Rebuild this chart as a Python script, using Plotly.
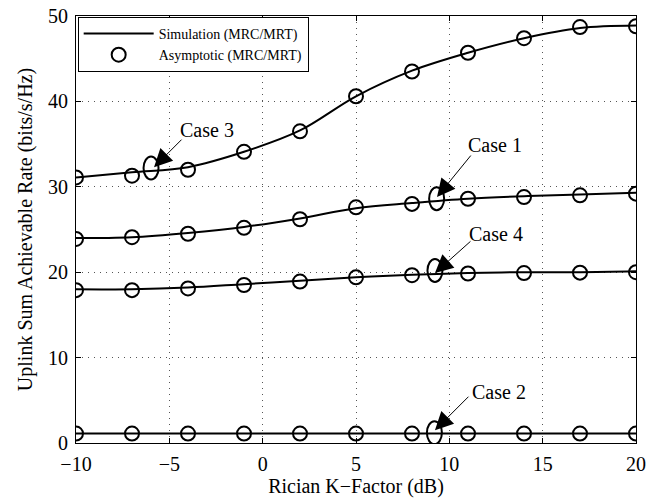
import plotly.graph_objects as go

k_factor = [-10, -7, -4, -1, 2, 5, 8, 11, 14, 17, 20]

sim_case3 = [31.1, 31.7, 32.3, 34.1, 36.6, 40.6, 43.6, 45.7, 47.4, 48.6, 48.9]
asy_case3 = [31.1, 31.3, 32.0, 34.1, 36.5, 40.6, 43.5, 45.7, 47.4, 48.7, 48.8]
sim_case1 = [24.0, 24.1, 24.6, 25.3, 26.3, 27.5, 28.1, 28.6, 28.9, 29.1, 29.3]
asy_case1 = [23.9, 24.1, 24.5, 25.2, 26.2, 27.6, 28.0, 28.6, 28.8, 29.0, 29.2]
sim_case4 = [18.0, 18.0, 18.2, 18.6, 19.0, 19.4, 19.7, 19.9, 20.0, 20.0, 20.1]
asy_case4 = [17.9, 17.9, 18.1, 18.5, 18.9, 19.4, 19.65, 19.85, 19.9, 19.95, 20.0]
sim_case2 = [1.1] * 11
asy_case2 = [1.1] * 11

sim_series = [sim_case3, sim_case1, sim_case4, sim_case2]
asy_series = [asy_case3, asy_case1, asy_case4, asy_case2]

x_ticks = [-10, -5, 0, 5, 10, 15, 20]
y_ticks = [0, 10, 20, 30, 40, 50]

# case labels: (text, label x, label y, arrow tip x, arrow tip y, tail dx px, tail dy px, ellipse x, ellipse y)
case_labels = [
    ("Case 3", -4.55, 36.6, -5.82, 32.3, 29, -29, -5.98, 32.2),
    ("Case 1", 10.87, 34.85, 9.34, 28.8, 35, -43, 9.32, 28.6),
    ("Case 4", 10.93, 24.5, 9.23, 19.9, 37, -33, 9.23, 20.2),
    ("Case 2", 11.1, 6.0, 9.23, 1.5, 35, -35, 9.2, 1.2),
]

FONT = "Liberation Serif, Times New Roman, Times, serif"

fig = go.Figure()
for i, ys in enumerate(sim_series):
    fig.add_trace(go.Scatter(
        x=k_factor, y=ys, mode="lines", line=dict(color="black", width=2, shape="spline"),
        name="Simulation (MRC/MRT)", showlegend=(i == 0), legendrank=1))
for i, ys in enumerate(asy_series):
    fig.add_trace(go.Scatter(
        x=k_factor, y=ys, mode="markers",
        marker=dict(symbol="circle-open", size=14, color="black", line=dict(width=2, color="black")),
        name="Asymptotic (MRC/MRT)", showlegend=(i == 0), legendrank=2))

annotations = []
shapes = []
for (txt, lx, ly, tx, ty, dx, dy, ex, ey) in case_labels:
    annotations.append(dict(x=lx, y=ly, xref="x", yref="y", text=txt, showarrow=False,
                            xanchor="left", yanchor="middle",
                            font=dict(family=FONT, size=20, color="black")))
    annotations.append(dict(x=tx, y=ty, xref="x", yref="y", text="", showarrow=True,
                            ax=dx, ay=dy, arrowhead=2, arrowsize=3.6, arrowwidth=1,
                            arrowcolor="black", standoff=0, startstandoff=0))
    shapes.append(dict(type="circle", xref="x", yref="y", xsizemode="pixel", ysizemode="pixel",
                       xanchor=ex, yanchor=ey, x0=-7.5, x1=7.5, y0=-11.5, y1=11.5,
                       line=dict(color="black", width=2)))

axis_common = dict(showline=True, linecolor="black", linewidth=1, mirror="allticks",
                   ticks="inside", ticklen=5, tickcolor="black",
                   showgrid=True, gridcolor="#555555", gridwidth=1, griddash="1px,5px",
                   zeroline=False, tickfont=dict(family=FONT, size=20, color="black"))

fig.update_layout(
    width=660, height=498,
    margin=dict(l=76, r=24, t=16, b=55, autoexpand=False),
    paper_bgcolor="white", plot_bgcolor="white",
    font=dict(family=FONT, color="black"),
    xaxis=dict(range=[-10, 20], tickvals=x_ticks,
               ticktext=[str(v).replace("-", "\u2212") for v in x_ticks],
               ticklabelstandoff=3, automargin=False,
               title=dict(text="Rician K\u2212Factor (dB)", font=dict(family=FONT, size=20), standoff=5),
               **axis_common),
    yaxis=dict(range=[0, 50], tickvals=y_ticks, ticklabelstandoff=3, automargin=False,
               title=dict(text="Uplink Sum Achievable Rate (bits/s/Hz)", font=dict(family=FONT, size=20), standoff=10),
               **axis_common),
    legend=dict(x=0.003, y=0.998, xanchor="left", yanchor="top", bgcolor="white",
                bordercolor="black", borderwidth=1, font=dict(family=FONT, size=14),
                itemwidth=70, tracegroupgap=2),
    annotations=annotations,
    shapes=shapes,
)

fig.write_html("out.html")
